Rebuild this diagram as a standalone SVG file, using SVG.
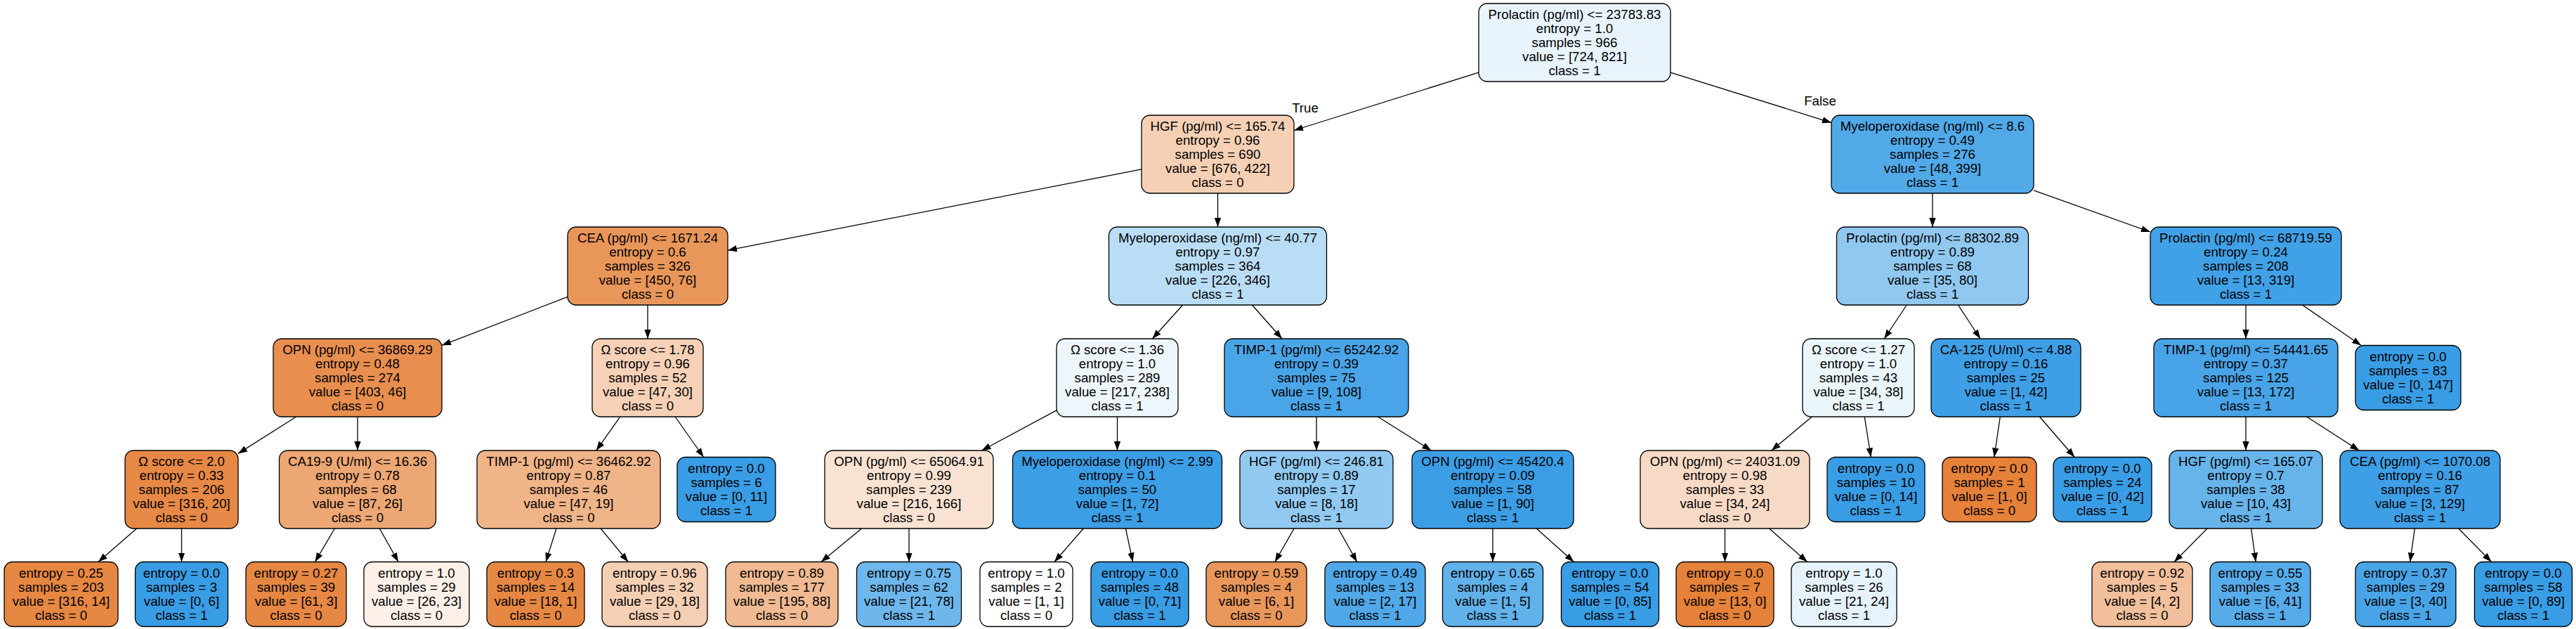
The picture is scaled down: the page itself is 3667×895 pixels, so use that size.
<svg xmlns="http://www.w3.org/2000/svg" width="3667" height="895" viewBox="0 0 3667 895">
<style>
.nd rect{stroke:#000;stroke-width:1.3}
text{font-family:"Liberation Sans",Arial,Helvetica,sans-serif;font-size:18.67px;fill:#000;text-anchor:middle}
.e{stroke:#000;stroke-width:1.3;fill:none;marker-end:url(#arr)}
</style>
<defs>
<marker id="arr" markerUnits="userSpaceOnUse" markerWidth="14" markerHeight="10" viewBox="0 0 14 10" refX="13" refY="5" orient="auto"><path d="M0,0.3 L13,5 L0,9.7 z" fill="#000"/></marker>
</defs>
<rect width="3667" height="895" fill="#fff"/>
<g id="edges">
<line class="e" x1="2105" y1="103.2" x2="1842" y2="185.5"/>
<line class="e" x1="2378" y1="103.1" x2="2607" y2="174.6"/>
<line class="e" x1="1625" y1="240.8" x2="1036" y2="356.2"/>
<line class="e" x1="1733.5" y1="275" x2="1733.5" y2="323"/>
<line class="e" x1="2751" y1="275" x2="2751" y2="323"/>
<line class="e" x1="2895" y1="270.8" x2="3061" y2="330"/>
<line class="e" x1="808" y1="422.4" x2="629" y2="491.3"/>
<line class="e" x1="922" y1="434" x2="922" y2="482"/>
<line class="e" x1="1683.6" y1="434" x2="1640.4" y2="482"/>
<line class="e" x1="1782.5" y1="434" x2="1825" y2="482"/>
<line class="e" x1="2714.2" y1="434" x2="2682.3" y2="482"/>
<line class="e" x1="2787.5" y1="434" x2="2819" y2="482"/>
<line class="e" x1="3197" y1="434" x2="3197" y2="482"/>
<line class="e" x1="3277.6" y1="434" x2="3361.2" y2="491.5"/>
<line class="e" x1="421.6" y1="593" x2="339" y2="645.4"/>
<line class="e" x1="509" y1="593" x2="509" y2="641"/>
<line class="e" x1="882.7" y1="593" x2="848.8" y2="641"/>
<line class="e" x1="961.1" y1="593" x2="1001.6" y2="650.5"/>
<line class="e" x1="1504" y1="583.9" x2="1397.5" y2="641"/>
<line class="e" x1="1590.5" y1="593" x2="1590.5" y2="641"/>
<line class="e" x1="1874" y1="593" x2="1874" y2="641"/>
<line class="e" x1="1961.6" y1="593" x2="2037.4" y2="641"/>
<line class="e" x1="2579.2" y1="593" x2="2521.8" y2="641"/>
<line class="e" x1="2654.2" y1="593" x2="2663.3" y2="650.5"/>
<line class="e" x1="2847.3" y1="593" x2="2838.8" y2="650.5"/>
<line class="e" x1="2903.5" y1="593" x2="2953.2" y2="650.5"/>
<line class="e" x1="3197" y1="593" x2="3197" y2="641"/>
<line class="e" x1="3283.6" y1="593" x2="3358.4" y2="641"/>
<line class="e" x1="194.6" y1="752" x2="139.9" y2="799.5"/>
<line class="e" x1="258.5" y1="752" x2="258.5" y2="799.5"/>
<line class="e" x1="476.4" y1="752" x2="448.5" y2="799.5"/>
<line class="e" x1="540.3" y1="752" x2="567.1" y2="799.5"/>
<line class="e" x1="792" y1="752" x2="777" y2="799.5"/>
<line class="e" x1="855.1" y1="752" x2="894.2" y2="799.5"/>
<line class="e" x1="1226.6" y1="752" x2="1168.9" y2="799.5"/>
<line class="e" x1="1294" y1="752" x2="1294" y2="799.5"/>
<line class="e" x1="1542.3" y1="752" x2="1501" y2="799.5"/>
<line class="e" x1="1602.4" y1="752" x2="1612.6" y2="799.5"/>
<line class="e" x1="1842.2" y1="752" x2="1814.9" y2="799.5"/>
<line class="e" x1="1905.1" y1="752" x2="1931.7" y2="799.5"/>
<line class="e" x1="2125" y1="752" x2="2125" y2="799.5"/>
<line class="e" x1="2187.2" y1="752" x2="2240.4" y2="799.5"/>
<line class="e" x1="2455.5" y1="752" x2="2455.5" y2="799.5"/>
<line class="e" x1="2518.6" y1="752" x2="2572.7" y2="799.5"/>
<line class="e" x1="3142.1" y1="752" x2="3095" y2="799.5"/>
<line class="e" x1="3204.6" y1="752" x2="3211.2" y2="799.5"/>
<line class="e" x1="3437.4" y1="752" x2="3430.8" y2="799.5"/>
<line class="e" x1="3499.8" y1="752" x2="3546.6" y2="799.5"/>
<text x="1858" y="160">True</text>
<text x="2591" y="150">False</text>
</g>
<g id="n0" class="nd"><rect x="2105" y="5" width="273" height="111" rx="12" fill="#e8f3fc"/><text x="2241.5" y="27">Prolactin (pg/ml) &lt;= 23783.83<tspan x="2241.5" dy="20">entropy = 1.0</tspan><tspan x="2241.5" dy="20">samples = 966</tspan><tspan x="2241.5" dy="20">value = [724, 821]</tspan><tspan x="2241.5" dy="20">class = 1</tspan></text></g>
<g id="n1" class="nd"><rect x="1625" y="164" width="217" height="111" rx="12" fill="#f5d0b5"/><text x="1733.5" y="186">HGF (pg/ml) &lt;= 165.74<tspan x="1733.5" dy="20">entropy = 0.96</tspan><tspan x="1733.5" dy="20">samples = 690</tspan><tspan x="1733.5" dy="20">value = [676, 422]</tspan><tspan x="1733.5" dy="20">class = 0</tspan></text></g>
<g id="n2" class="nd"><rect x="2607" y="164" width="288" height="111" rx="12" fill="#51a9e8"/><text x="2751" y="186">Myeloperoxidase (ng/ml) &lt;= 8.6<tspan x="2751" dy="20">entropy = 0.49</tspan><tspan x="2751" dy="20">samples = 276</tspan><tspan x="2751" dy="20">value = [48, 399]</tspan><tspan x="2751" dy="20">class = 1</tspan></text></g>
<g id="n3" class="nd"><rect x="808" y="323" width="228" height="111" rx="12" fill="#e9965a"/><text x="922" y="345">CEA (pg/ml) &lt;= 1671.24<tspan x="922" dy="20">entropy = 0.6</tspan><tspan x="922" dy="20">samples = 326</tspan><tspan x="922" dy="20">value = [450, 76]</tspan><tspan x="922" dy="20">class = 0</tspan></text></g>
<g id="n4" class="nd"><rect x="1578.5" y="323" width="310" height="111" rx="12" fill="#baddf6"/><text x="1733.5" y="345">Myeloperoxidase (ng/ml) &lt;= 40.77<tspan x="1733.5" dy="20">entropy = 0.97</tspan><tspan x="1733.5" dy="20">samples = 364</tspan><tspan x="1733.5" dy="20">value = [226, 346]</tspan><tspan x="1733.5" dy="20">class = 1</tspan></text></g>
<g id="n5" class="nd"><rect x="2614.5" y="323" width="273" height="111" rx="12" fill="#90c8f0"/><text x="2751" y="345">Prolactin (pg/ml) &lt;= 88302.89<tspan x="2751" dy="20">entropy = 0.89</tspan><tspan x="2751" dy="20">samples = 68</tspan><tspan x="2751" dy="20">value = [35, 80]</tspan><tspan x="2751" dy="20">class = 1</tspan></text></g>
<g id="n6" class="nd"><rect x="3061" y="323" width="272" height="111" rx="12" fill="#41a1e6"/><text x="3197" y="345">Prolactin (pg/ml) &lt;= 68719.59<tspan x="3197" dy="20">entropy = 0.24</tspan><tspan x="3197" dy="20">samples = 208</tspan><tspan x="3197" dy="20">value = [13, 319]</tspan><tspan x="3197" dy="20">class = 1</tspan></text></g>
<g id="n7" class="nd"><rect x="389" y="482" width="240" height="111" rx="12" fill="#e88f50"/><text x="509" y="504">OPN (pg/ml) &lt;= 36869.29<tspan x="509" dy="20">entropy = 0.48</tspan><tspan x="509" dy="20">samples = 274</tspan><tspan x="509" dy="20">value = [403, 46]</tspan><tspan x="509" dy="20">class = 0</tspan></text></g>
<g id="n8" class="nd"><rect x="843" y="482" width="158" height="111" rx="12" fill="#f6d1b7"/><text x="922" y="504">Ω score &lt;= 1.78<tspan x="922" dy="20">entropy = 0.96</tspan><tspan x="922" dy="20">samples = 52</tspan><tspan x="922" dy="20">value = [47, 30]</tspan><tspan x="922" dy="20">class = 0</tspan></text></g>
<g id="n9" class="nd"><rect x="1504" y="482" width="173" height="111" rx="12" fill="#eef6fd"/><text x="1590.5" y="504">Ω score &lt;= 1.36<tspan x="1590.5" dy="20">entropy = 1.0</tspan><tspan x="1590.5" dy="20">samples = 289</tspan><tspan x="1590.5" dy="20">value = [217, 238]</tspan><tspan x="1590.5" dy="20">class = 1</tspan></text></g>
<g id="n10" class="nd"><rect x="1743" y="482" width="262" height="111" rx="12" fill="#49a5e7"/><text x="1874" y="504">TIMP-1 (pg/ml) &lt;= 65242.92<tspan x="1874" dy="20">entropy = 0.39</tspan><tspan x="1874" dy="20">samples = 75</tspan><tspan x="1874" dy="20">value = [9, 108]</tspan><tspan x="1874" dy="20">class = 1</tspan></text></g>
<g id="n11" class="nd"><rect x="2566" y="482" width="159" height="111" rx="12" fill="#eaf5fc"/><text x="2645.5" y="504">Ω score &lt;= 1.27<tspan x="2645.5" dy="20">entropy = 1.0</tspan><tspan x="2645.5" dy="20">samples = 43</tspan><tspan x="2645.5" dy="20">value = [34, 38]</tspan><tspan x="2645.5" dy="20">class = 1</tspan></text></g>
<g id="n12" class="nd"><rect x="2749" y="482" width="213" height="111" rx="12" fill="#3e9fe6"/><text x="2855.5" y="504">CA-125 (U/ml) &lt;= 4.88<tspan x="2855.5" dy="20">entropy = 0.16</tspan><tspan x="2855.5" dy="20">samples = 25</tspan><tspan x="2855.5" dy="20">value = [1, 42]</tspan><tspan x="2855.5" dy="20">class = 1</tspan></text></g>
<g id="n13" class="nd"><rect x="3066" y="482" width="262" height="111" rx="12" fill="#48a4e7"/><text x="3197" y="504">TIMP-1 (pg/ml) &lt;= 54441.65<tspan x="3197" dy="20">entropy = 0.37</tspan><tspan x="3197" dy="20">samples = 125</tspan><tspan x="3197" dy="20">value = [13, 172]</tspan><tspan x="3197" dy="20">class = 1</tspan></text></g>
<g id="n14" class="nd"><rect x="3353" y="491.5" width="150" height="92" rx="12" fill="#399de5"/><text x="3428" y="514">entropy = 0.0<tspan x="3428" dy="20">samples = 83</tspan><tspan x="3428" dy="20">value = [0, 147]</tspan><tspan x="3428" dy="20">class = 1</tspan></text></g>
<g id="n15" class="nd"><rect x="178" y="641" width="161" height="111" rx="12" fill="#e78946"/><text x="258.5" y="663">Ω score &lt;= 2.0<tspan x="258.5" dy="20">entropy = 0.33</tspan><tspan x="258.5" dy="20">samples = 206</tspan><tspan x="258.5" dy="20">value = [316, 20]</tspan><tspan x="258.5" dy="20">class = 0</tspan></text></g>
<g id="n16" class="nd"><rect x="397.5" y="641" width="223" height="111" rx="12" fill="#eda774"/><text x="509" y="663">CA19-9 (U/ml) &lt;= 16.36<tspan x="509" dy="20">entropy = 0.78</tspan><tspan x="509" dy="20">samples = 68</tspan><tspan x="509" dy="20">value = [87, 26]</tspan><tspan x="509" dy="20">class = 0</tspan></text></g>
<g id="n17" class="nd"><rect x="679" y="641" width="261" height="111" rx="12" fill="#f0b489"/><text x="809.5" y="663">TIMP-1 (pg/ml) &lt;= 36462.92<tspan x="809.5" dy="20">entropy = 0.87</tspan><tspan x="809.5" dy="20">samples = 46</tspan><tspan x="809.5" dy="20">value = [47, 19]</tspan><tspan x="809.5" dy="20">class = 0</tspan></text></g>
<g id="n18" class="nd"><rect x="964" y="650.5" width="140" height="92" rx="12" fill="#399de5"/><text x="1034" y="673">entropy = 0.0<tspan x="1034" dy="20">samples = 6</tspan><tspan x="1034" dy="20">value = [0, 11]</tspan><tspan x="1034" dy="20">class = 1</tspan></text></g>
<g id="n19" class="nd"><rect x="1174" y="641" width="240" height="111" rx="12" fill="#f9e2d1"/><text x="1294" y="663">OPN (pg/ml) &lt;= 65064.91<tspan x="1294" dy="20">entropy = 0.99</tspan><tspan x="1294" dy="20">samples = 239</tspan><tspan x="1294" dy="20">value = [216, 166]</tspan><tspan x="1294" dy="20">class = 0</tspan></text></g>
<g id="n20" class="nd"><rect x="1441.5" y="641" width="298" height="111" rx="12" fill="#3c9ee5"/><text x="1590.5" y="663">Myeloperoxidase (ng/ml) &lt;= 2.99<tspan x="1590.5" dy="20">entropy = 0.1</tspan><tspan x="1590.5" dy="20">samples = 50</tspan><tspan x="1590.5" dy="20">value = [1, 72]</tspan><tspan x="1590.5" dy="20">class = 1</tspan></text></g>
<g id="n21" class="nd"><rect x="1765" y="641" width="218" height="111" rx="12" fill="#91c9f1"/><text x="1874" y="663">HGF (pg/ml) &lt;= 246.81<tspan x="1874" dy="20">entropy = 0.89</tspan><tspan x="1874" dy="20">samples = 17</tspan><tspan x="1874" dy="20">value = [8, 18]</tspan><tspan x="1874" dy="20">class = 1</tspan></text></g>
<g id="n22" class="nd"><rect x="2010" y="641" width="230" height="111" rx="12" fill="#3b9ee5"/><text x="2125" y="663">OPN (pg/ml) &lt;= 45420.4<tspan x="2125" dy="20">entropy = 0.09</tspan><tspan x="2125" dy="20">samples = 58</tspan><tspan x="2125" dy="20">value = [1, 90]</tspan><tspan x="2125" dy="20">class = 1</tspan></text></g>
<g id="n23" class="nd"><rect x="2335" y="641" width="241" height="111" rx="12" fill="#f7dac5"/><text x="2455.5" y="663">OPN (pg/ml) &lt;= 24031.09<tspan x="2455.5" dy="20">entropy = 0.98</tspan><tspan x="2455.5" dy="20">samples = 33</tspan><tspan x="2455.5" dy="20">value = [34, 24]</tspan><tspan x="2455.5" dy="20">class = 0</tspan></text></g>
<g id="n24" class="nd"><rect x="2601" y="650.5" width="139" height="92" rx="12" fill="#399de5"/><text x="2670.5" y="673">entropy = 0.0<tspan x="2670.5" dy="20">samples = 10</tspan><tspan x="2670.5" dy="20">value = [0, 14]</tspan><tspan x="2670.5" dy="20">class = 1</tspan></text></g>
<g id="n25" class="nd"><rect x="2765" y="650.5" width="134" height="92" rx="12" fill="#e58139"/><text x="2832" y="673">entropy = 0.0<tspan x="2832" dy="20">samples = 1</tspan><tspan x="2832" dy="20">value = [1, 0]</tspan><tspan x="2832" dy="20">class = 0</tspan></text></g>
<g id="n26" class="nd"><rect x="2923" y="650.5" width="140" height="92" rx="12" fill="#399de5"/><text x="2993" y="673">entropy = 0.0<tspan x="2993" dy="20">samples = 24</tspan><tspan x="2993" dy="20">value = [0, 42]</tspan><tspan x="2993" dy="20">class = 1</tspan></text></g>
<g id="n27" class="nd"><rect x="3088" y="641" width="218" height="111" rx="12" fill="#67b4eb"/><text x="3197" y="663">HGF (pg/ml) &lt;= 165.07<tspan x="3197" dy="20">entropy = 0.7</tspan><tspan x="3197" dy="20">samples = 38</tspan><tspan x="3197" dy="20">value = [10, 43]</tspan><tspan x="3197" dy="20">class = 1</tspan></text></g>
<g id="n28" class="nd"><rect x="3331" y="641" width="228" height="111" rx="12" fill="#3e9fe6"/><text x="3445" y="663">CEA (pg/ml) &lt;= 1070.08<tspan x="3445" dy="20">entropy = 0.16</tspan><tspan x="3445" dy="20">samples = 87</tspan><tspan x="3445" dy="20">value = [3, 129]</tspan><tspan x="3445" dy="20">class = 1</tspan></text></g>
<g id="n29" class="nd"><rect x="6" y="799.5" width="162" height="92" rx="12" fill="#e68742"/><text x="87" y="822">entropy = 0.25<tspan x="87" dy="20">samples = 203</tspan><tspan x="87" dy="20">value = [316, 14]</tspan><tspan x="87" dy="20">class = 0</tspan></text></g>
<g id="n30" class="nd"><rect x="192.5" y="799.5" width="132" height="92" rx="12" fill="#399de5"/><text x="258.5" y="822">entropy = 0.0<tspan x="258.5" dy="20">samples = 3</tspan><tspan x="258.5" dy="20">value = [0, 6]</tspan><tspan x="258.5" dy="20">class = 1</tspan></text></g>
<g id="n31" class="nd"><rect x="350" y="799.5" width="143" height="92" rx="12" fill="#e68743"/><text x="421.5" y="822">entropy = 0.27<tspan x="421.5" dy="20">samples = 39</tspan><tspan x="421.5" dy="20">value = [61, 3]</tspan><tspan x="421.5" dy="20">class = 0</tspan></text></g>
<g id="n32" class="nd"><rect x="518" y="799.5" width="150" height="92" rx="12" fill="#fcf0e8"/><text x="593" y="822">entropy = 1.0<tspan x="593" dy="20">samples = 29</tspan><tspan x="593" dy="20">value = [26, 23]</tspan><tspan x="593" dy="20">class = 0</tspan></text></g>
<g id="n33" class="nd"><rect x="693" y="799.5" width="139" height="92" rx="12" fill="#e68844"/><text x="762.5" y="822">entropy = 0.3<tspan x="762.5" dy="20">samples = 14</tspan><tspan x="762.5" dy="20">value = [18, 1]</tspan><tspan x="762.5" dy="20">class = 0</tspan></text></g>
<g id="n34" class="nd"><rect x="857" y="799.5" width="150" height="92" rx="12" fill="#f5cfb4"/><text x="932" y="822">entropy = 0.96<tspan x="932" dy="20">samples = 32</tspan><tspan x="932" dy="20">value = [29, 18]</tspan><tspan x="932" dy="20">class = 0</tspan></text></g>
<g id="n35" class="nd"><rect x="1033" y="799.5" width="160" height="92" rx="12" fill="#f1ba92"/><text x="1113" y="822">entropy = 0.89<tspan x="1113" dy="20">samples = 177</tspan><tspan x="1113" dy="20">value = [195, 88]</tspan><tspan x="1113" dy="20">class = 0</tspan></text></g>
<g id="n36" class="nd"><rect x="1219.5" y="799.5" width="149" height="92" rx="12" fill="#6eb7ec"/><text x="1294" y="822">entropy = 0.75<tspan x="1294" dy="20">samples = 62</tspan><tspan x="1294" dy="20">value = [21, 78]</tspan><tspan x="1294" dy="20">class = 1</tspan></text></g>
<g id="n37" class="nd"><rect x="1395" y="799.5" width="132" height="92" rx="12" fill="#ffffff"/><text x="1461" y="822">entropy = 1.0<tspan x="1461" dy="20">samples = 2</tspan><tspan x="1461" dy="20">value = [1, 1]</tspan><tspan x="1461" dy="20">class = 0</tspan></text></g>
<g id="n38" class="nd"><rect x="1553" y="799.5" width="139" height="92" rx="12" fill="#399de5"/><text x="1622.5" y="822">entropy = 0.0<tspan x="1622.5" dy="20">samples = 48</tspan><tspan x="1622.5" dy="20">value = [0, 71]</tspan><tspan x="1622.5" dy="20">class = 1</tspan></text></g>
<g id="n39" class="nd"><rect x="1717" y="799.5" width="143" height="92" rx="12" fill="#e9965a"/><text x="1788.5" y="822">entropy = 0.59<tspan x="1788.5" dy="20">samples = 4</tspan><tspan x="1788.5" dy="20">value = [6, 1]</tspan><tspan x="1788.5" dy="20">class = 0</tspan></text></g>
<g id="n40" class="nd"><rect x="1886" y="799.5" width="143" height="92" rx="12" fill="#50a8e8"/><text x="1957.5" y="822">entropy = 0.49<tspan x="1957.5" dy="20">samples = 13</tspan><tspan x="1957.5" dy="20">value = [2, 17]</tspan><tspan x="1957.5" dy="20">class = 1</tspan></text></g>
<g id="n41" class="nd"><rect x="2053.5" y="799.5" width="143" height="92" rx="12" fill="#61b1ea"/><text x="2125" y="822">entropy = 0.65<tspan x="2125" dy="20">samples = 4</tspan><tspan x="2125" dy="20">value = [1, 5]</tspan><tspan x="2125" dy="20">class = 1</tspan></text></g>
<g id="n42" class="nd"><rect x="2222.5" y="799.5" width="139" height="92" rx="12" fill="#399de5"/><text x="2292" y="822">entropy = 0.0<tspan x="2292" dy="20">samples = 54</tspan><tspan x="2292" dy="20">value = [0, 85]</tspan><tspan x="2292" dy="20">class = 1</tspan></text></g>
<g id="n43" class="nd"><rect x="2386" y="799.5" width="139" height="92" rx="12" fill="#e58139"/><text x="2455.5" y="822">entropy = 0.0<tspan x="2455.5" dy="20">samples = 7</tspan><tspan x="2455.5" dy="20">value = [13, 0]</tspan><tspan x="2455.5" dy="20">class = 0</tspan></text></g>
<g id="n44" class="nd"><rect x="2550" y="799.5" width="150" height="92" rx="12" fill="#e6f3fc"/><text x="2625" y="822">entropy = 1.0<tspan x="2625" dy="20">samples = 26</tspan><tspan x="2625" dy="20">value = [21, 24]</tspan><tspan x="2625" dy="20">class = 1</tspan></text></g>
<g id="n45" class="nd"><rect x="2978" y="799.5" width="143" height="92" rx="12" fill="#f2c09c"/><text x="3049.5" y="822">entropy = 0.92<tspan x="3049.5" dy="20">samples = 5</tspan><tspan x="3049.5" dy="20">value = [4, 2]</tspan><tspan x="3049.5" dy="20">class = 0</tspan></text></g>
<g id="n46" class="nd"><rect x="3146" y="799.5" width="143" height="92" rx="12" fill="#56abe9"/><text x="3217.5" y="822">entropy = 0.55<tspan x="3217.5" dy="20">samples = 33</tspan><tspan x="3217.5" dy="20">value = [6, 41]</tspan><tspan x="3217.5" dy="20">class = 1</tspan></text></g>
<g id="n47" class="nd"><rect x="3353" y="799.5" width="143" height="92" rx="12" fill="#48a4e7"/><text x="3424.5" y="822">entropy = 0.37<tspan x="3424.5" dy="20">samples = 29</tspan><tspan x="3424.5" dy="20">value = [3, 40]</tspan><tspan x="3424.5" dy="20">class = 1</tspan></text></g>
<g id="n48" class="nd"><rect x="3522.5" y="799.5" width="139" height="92" rx="12" fill="#399de5"/><text x="3592" y="822">entropy = 0.0<tspan x="3592" dy="20">samples = 58</tspan><tspan x="3592" dy="20">value = [0, 89]</tspan><tspan x="3592" dy="20">class = 1</tspan></text></g>
</svg>
